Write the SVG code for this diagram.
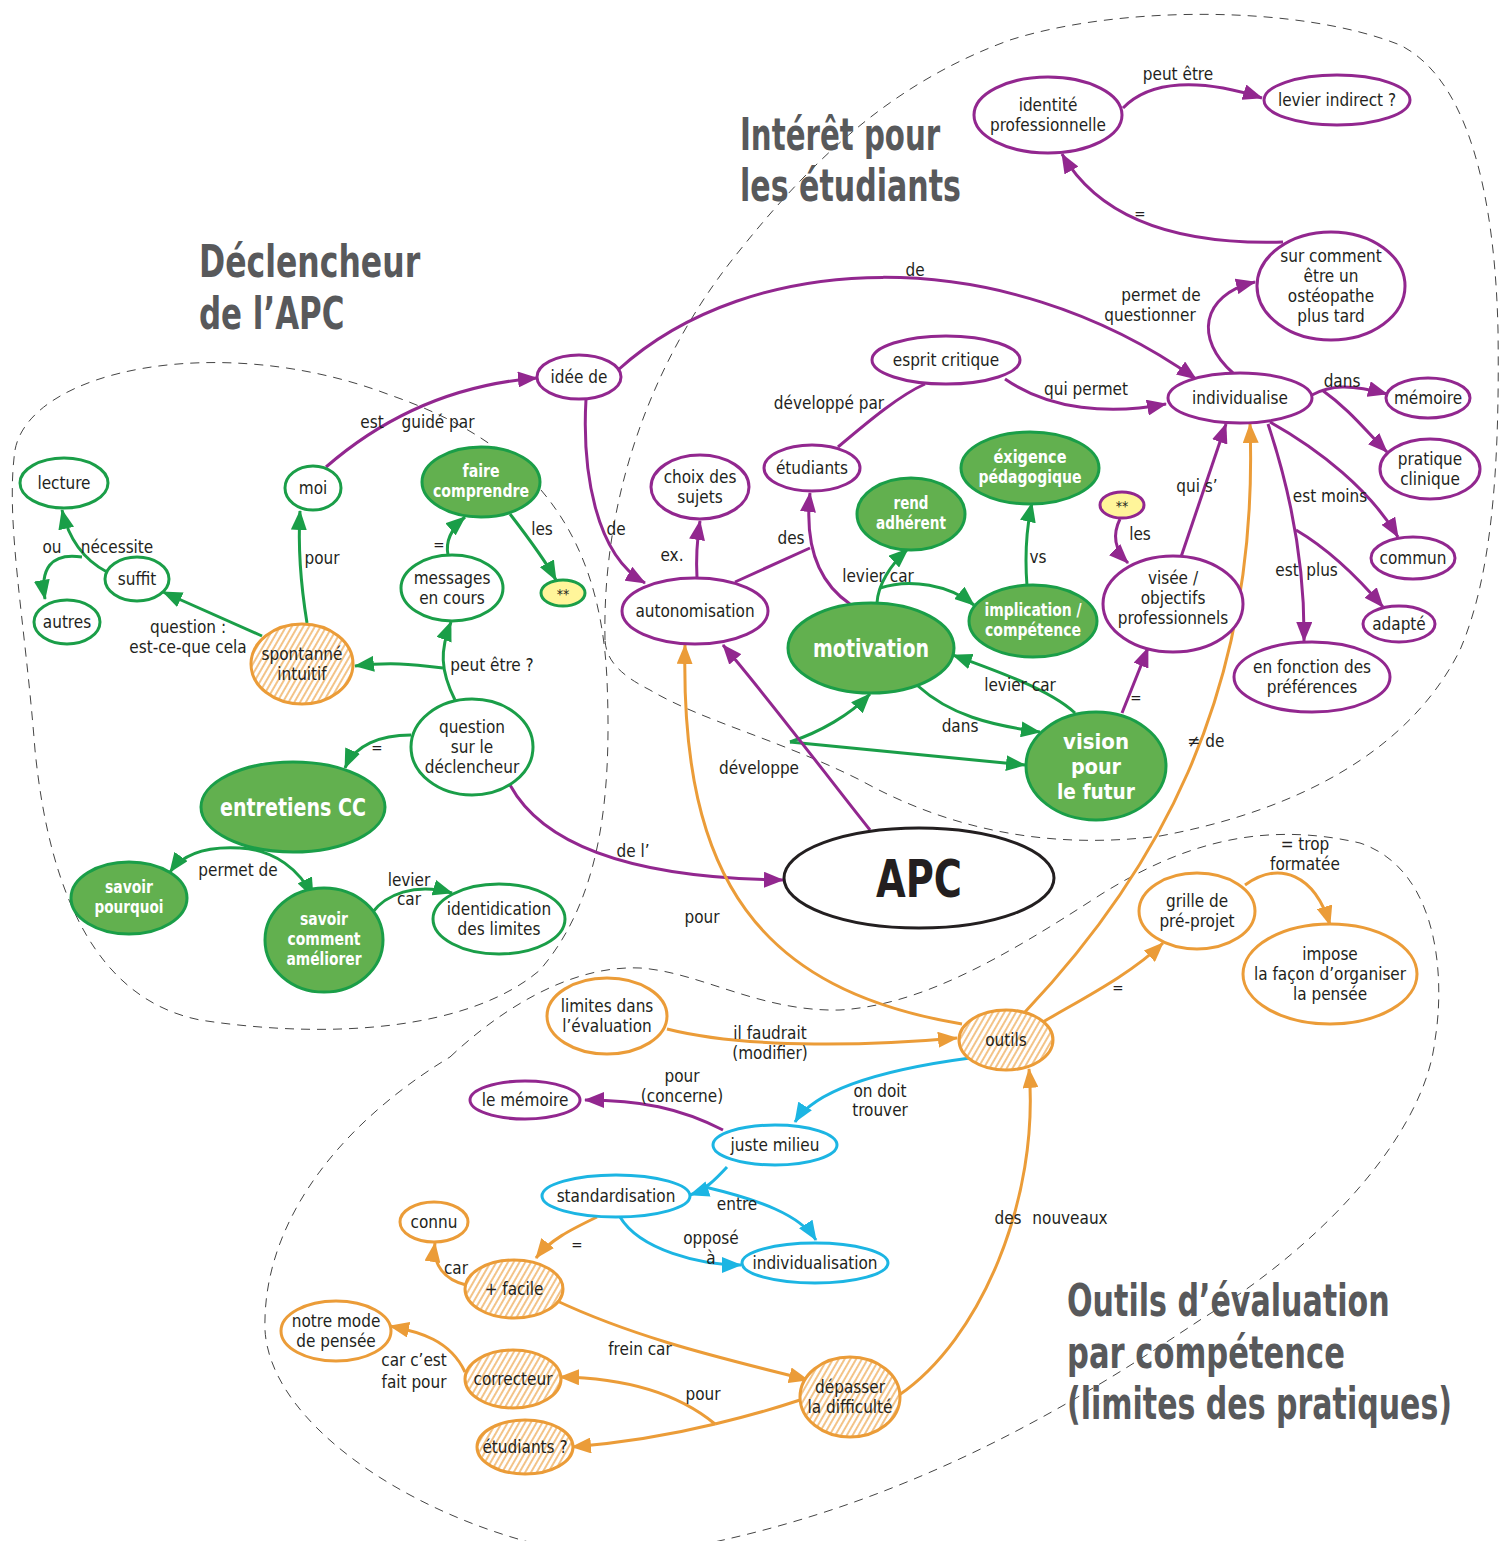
<svg xmlns="http://www.w3.org/2000/svg" width="1506" height="1541" viewBox="0 0 1506 1541">
<defs>
<style>
text{font-family:"Liberation Sans Narrow","DejaVu Sans Condensed","Liberation Sans",sans-serif;font-stretch:condensed;font-size:17px;fill:#231f20;text-anchor:middle}
.t{font-size:44px;font-weight:bold;fill:#58595b;text-anchor:start}
.w{fill:#fff;font-weight:bold;font-size:17.5px}
.big{font-size:25px}
.vis{font-size:22px}
.apc{font-size:52px;font-weight:bold}
.eq{font-size:15px}
ellipse{stroke-width:3}
.g{stroke:#1a9e48;fill:#fff}
.gf{stroke:#1a9e48;fill:#62b04f}
.p{stroke:#92278f;fill:#fff}
.o{stroke:#eb9c38;fill:#fff}
.oh{stroke:#eb9c38;fill:url(#hatch)}
.c{stroke:#1cb5e3;fill:#fff}
.yg{stroke:#1a9e48;fill:#fff59a}
.yp{stroke:#92278f;fill:#fff59a}
.k{stroke:#231f20;fill:#fff}
.e path{fill:none;stroke-width:3}
.eg{stroke:#1a9e48}
.ep{stroke:#92278f}
.eo{stroke:#eb9c38}
.ec{stroke:#1cb5e3}
.d{fill:none;stroke:#444;stroke-width:1;stroke-dasharray:9 7}
</style>
<pattern id="hatch" patternUnits="userSpaceOnUse" width="5" height="10" patternTransform="rotate(30)">
<rect width="5" height="10" fill="#fff"/>
<line x1="1" y1="0" x2="1" y2="10" stroke="#eb9c38" stroke-width="1.2"/>
</pattern>
<marker id="ag" viewBox="0 0 20 16" refX="19" refY="8" markerWidth="20" markerHeight="16" markerUnits="userSpaceOnUse" orient="auto"><path d="M0,0 L20,8 L0,16 z" fill="#1a9e48"/></marker>
<marker id="ap" viewBox="0 0 20 16" refX="19" refY="8" markerWidth="20" markerHeight="16" markerUnits="userSpaceOnUse" orient="auto"><path d="M0,0 L20,8 L0,16 z" fill="#92278f"/></marker>
<marker id="ao" viewBox="0 0 20 16" refX="19" refY="8" markerWidth="20" markerHeight="16" markerUnits="userSpaceOnUse" orient="auto"><path d="M0,0 L20,8 L0,16 z" fill="#eb9c38"/></marker>
<marker id="ac" viewBox="0 0 20 16" refX="19" refY="8" markerWidth="20" markerHeight="16" markerUnits="userSpaceOnUse" orient="auto"><path d="M0,0 L20,8 L0,16 z" fill="#1cb5e3"/></marker>
</defs>
<rect width="1506" height="1541" fill="#fff"/>

<g id="regions">
<path class="d" d="M15,450 C30,370 220,330 390,395 C520,440 600,520 607,680 C612,800 600,900 540,970 C470,1030 330,1040 200,1020 C100,1000 50,900 35,750 C25,620 5,520 15,450 Z"/>
<path class="d" d="M605,640 C602,500 650,360 740,250 C820,150 900,80 1010,40 C1120,5 1300,5 1400,45 C1470,80 1495,200 1498,330 C1500,480 1490,580 1460,650 C1410,750 1300,810 1160,836 C1050,850 950,830 860,780 C780,740 700,720 650,690 C620,675 606,660 605,640 Z"/>
<path class="d" d="M450,1057 C500,1010 570,965 640,968 C700,972 760,1012 840,1010 C920,1005 1000,960 1100,895 C1180,845 1260,820 1360,843 C1440,870 1445,980 1435,1040 C1425,1130 1330,1240 1200,1320 C1080,1400 920,1500 700,1545 L540,1545 C400,1510 270,1420 265,1330 C262,1230 330,1130 450,1057 Z"/>
</g>

<g id="titles">
<g transform="translate(740,0) scale(0.77,1)">
<text class="t" x="0" y="150" textLength="260" lengthAdjust="spacingAndGlyphs">Intérêt pour</text>
<text class="t" x="0" y="201" textLength="287" lengthAdjust="spacingAndGlyphs">les étudiants</text>
</g>
<g transform="translate(199,0) scale(0.79,1)">
<text class="t" x="0" y="277" textLength="280" lengthAdjust="spacingAndGlyphs">Déclencheur</text>
<text class="t" x="0" y="329" textLength="184" lengthAdjust="spacingAndGlyphs">de l’APC</text>
</g>
<g transform="translate(1067,0) scale(0.77,1)">
<text class="t" x="0" y="1316" textLength="419" lengthAdjust="spacingAndGlyphs">Outils d’évaluation</text>
<text class="t" x="0" y="1368" textLength="361" lengthAdjust="spacingAndGlyphs">par compétence</text>
<text class="t" x="0" y="1419" textLength="500" lengthAdjust="spacingAndGlyphs">(limites des pratiques)</text>
</g>
</g>

<g id="connectors" class="e">
<path class="eg" d="M107,572 C88,562 70,545 62,510" marker-end="url(#ag)"/>
<path class="eg" d="M82,557 C50,552 40,570 45,599" marker-end="url(#ag)"/>
<path class="eg" d="M262,636 L163,592" marker-end="url(#ag)"/>
<path class="eg" d="M307,623 C300,580 298,545 300,511" marker-end="url(#ag)"/>
<path class="eg" d="M455,700 C440,670 440,650 451,622" marker-end="url(#ag)"/>
<path class="eg" d="M443,668 C410,664 390,662 355,666" marker-end="url(#ag)"/>
<path class="eg" d="M448,555 C445,540 452,528 465,517" marker-end="url(#ag)"/>
<path class="eg" d="M510,514 C530,540 545,560 556,580" marker-end="url(#ag)"/>
<path class="eg" d="M411,735 C380,735 355,745 345,768" marker-end="url(#ag)"/>
<path class="eg" d="M240,848 C205,846 182,855 170,872" marker-end="url(#ag)"/>
<path class="eg" d="M240,848 C275,850 300,870 313,897" marker-end="url(#ag)"/>
<path class="eg" d="M372,913 C385,895 415,882 452,893" marker-end="url(#ag)"/>
<path class="eg" d="M877,603 C878,585 890,565 908,549" marker-end="url(#ag)"/>
<path class="eg" d="M880,588 C910,578 950,585 974,605" marker-end="url(#ag)"/>
<path class="eg" d="M1027,586 C1025,560 1026,530 1032,503" marker-end="url(#ag)"/>
<path class="eg" d="M1075,713 C1050,690 1000,672 953,655" marker-end="url(#ag)"/>
<path class="eg" d="M918,686 C950,715 990,725 1040,732" marker-end="url(#ag)"/>
<path class="eg" d="M790,742 C820,732 850,715 870,694" marker-end="url(#ag)"/>
<path class="eg" d="M790,742 L1025,765" marker-end="url(#ag)"/>

<path class="ep" d="M326,467 C380,420 450,385 537,378" marker-end="url(#ap)"/>
<path class="ep" d="M586,399 C582,470 595,555 645,583" marker-end="url(#ap)"/>
<path class="ep" d="M618,370 C750,250 1000,240 1196,379" marker-end="url(#ap)"/>
<path class="ep" d="M697,578 C696,560 697,540 700,521" marker-end="url(#ap)"/>
<path class="ep" d="M735,582 L810,548"/>
<path class="ep" d="M850,604 C815,580 805,540 810,493" marker-end="url(#ap)"/>
<path class="ep" d="M838,447 C870,420 900,395 925,384"/>
<path class="ep" d="M1005,379 C1050,410 1110,415 1166,404" marker-end="url(#ap)"/>
<path class="ep" d="M1233,373 C1195,340 1200,295 1255,282" marker-end="url(#ap)"/>
<path class="ep" d="M1283,242 C1180,245 1100,220 1062,154" marker-end="url(#ap)"/>
<path class="ep" d="M1123,108 C1150,80 1200,78 1262,98" marker-end="url(#ap)"/>
<path class="ep" d="M1312,395 C1330,385 1350,384 1387,394" marker-end="url(#ap)"/>
<path class="ep" d="M1322,390 C1350,410 1365,430 1387,452" marker-end="url(#ap)"/>
<path class="ep" d="M1270,422 C1320,450 1370,490 1398,537" marker-end="url(#ap)"/>
<path class="ep" d="M1268,424 C1290,490 1305,560 1304,641" marker-end="url(#ap)"/>
<path class="ep" d="M1296,530 C1330,550 1360,580 1383,607" marker-end="url(#ap)"/>
<path class="ep" d="M1181,557 C1195,515 1210,470 1226,424" marker-end="url(#ap)"/>
<path class="ep" d="M1120,519 C1112,535 1115,550 1128,563" marker-end="url(#ap)"/>
<path class="ep" d="M1122,713 L1148,648" marker-end="url(#ap)"/>
<path class="ep" d="M870,830 C830,780 770,700 723,645" marker-end="url(#ap)"/>
<path class="ep" d="M510,785 C540,840 620,878 783,880" marker-end="url(#ap)"/>
<path class="ep" d="M723,1130 C680,1108 640,1100 585,1100" marker-end="url(#ap)"/>

<path class="eo" d="M962,1024 C760,990 680,880 685,645" marker-end="url(#ao)"/>
<path class="eo" d="M1025,1012 C1150,880 1260,700 1250,424" marker-end="url(#ao)"/>
<path class="eo" d="M667,1029 C750,1050 880,1045 957,1038" marker-end="url(#ao)"/>
<path class="eo" d="M1043,1022 C1080,1000 1130,975 1163,943" marker-end="url(#ao)"/>
<path class="eo" d="M1245,885 C1280,860 1315,875 1330,925" marker-end="url(#ao)"/>
<path class="eo" d="M899,1395 C980,1340 1040,1200 1029,1069" marker-end="url(#ao)"/>
<path class="eo" d="M597,1217 C570,1230 550,1240 536,1258" marker-end="url(#ao)"/>
<path class="eo" d="M466,1285 C445,1280 432,1265 435,1243" marker-end="url(#ao)"/>
<path class="eo" d="M555,1300 C640,1340 730,1360 808,1380" marker-end="url(#ao)"/>
<path class="eo" d="M800,1400 C770,1410 740,1418 715,1424"/>
<path class="eo" d="M715,1424 C680,1395 630,1378 560,1377" marker-end="url(#ao)"/>
<path class="eo" d="M715,1424 C670,1435 620,1443 572,1447" marker-end="url(#ao)"/>
<path class="eo" d="M465,1372 C450,1340 420,1332 390,1326" marker-end="url(#ao)"/>

<path class="ec" d="M970,1058 C880,1070 815,1090 795,1122" marker-end="url(#ac)"/>
<path class="ec" d="M727,1167 C715,1180 705,1190 690,1195" marker-end="url(#ac)"/>
<path class="ec" d="M705,1187 C760,1200 800,1215 816,1240" marker-end="url(#ac)"/>
<path class="ec" d="M620,1217 C640,1250 700,1265 741,1265" marker-end="url(#ac)"/>
</g>

<g id="labels">
<text x="52" y="553">ou</text>
<text x="117" y="553">nécessite</text>
<text x="188" y="633">question :</text>
<text x="188" y="653">est-ce-que cela</text>
<text x="322" y="564">pour</text>
<text x="372" y="428">est</text>
<text x="438" y="428">guidé par</text>
<text x="492" y="671">peut être ?</text>
<text class="eq" x="439" y="550">=</text>
<text x="542" y="535">les</text>
<text class="eq" x="377" y="753">=</text>
<text x="238" y="876">permet de</text>
<text x="409" y="886">levier</text>
<text x="409" y="905">car</text>
<text x="616" y="535">de</text>
<text x="915" y="276">de</text>
<text x="672" y="561">ex.</text>
<text x="791" y="544">des</text>
<text x="829" y="409">développé par</text>
<text x="1086" y="395">qui permet</text>
<text x="1161" y="301">permet de</text>
<text x="1150" y="321">questionner</text>
<text class="eq" x="1140" y="219">=</text>
<text x="1178" y="80">peut être</text>
<text x="1342" y="387">dans</text>
<text x="1330" y="502">est moins</text>
<text x="1287" y="576">est</text>
<text x="1322" y="576">plus</text>
<text x="1197" y="492">qui s’</text>
<text x="1140" y="540">les</text>
<text x="878" y="582">levier car</text>
<text x="1038" y="563">vs</text>
<text x="1020" y="691">levier car</text>
<text x="960" y="732">dans</text>
<text class="eq" x="1136" y="703">=</text>
<text x="759" y="774">développe</text>
<text x="633" y="857">de l’</text>
<text x="702" y="923">pour</text>
<text x="1206" y="747">≠ de</text>
<text x="770" y="1039">il faudrait</text>
<text x="770" y="1059">(modifier)</text>
<text class="eq" x="1118" y="993">=</text>
<text x="1305" y="850">= trop</text>
<text x="1305" y="870">formatée</text>
<text x="880" y="1097">on doit</text>
<text x="880" y="1116">trouver</text>
<text x="682" y="1082">pour</text>
<text x="682" y="1102">(concerne)</text>
<text x="737" y="1210">entre</text>
<text x="711" y="1244">opposé</text>
<text x="711" y="1264">à</text>
<text class="eq" x="577" y="1250">=</text>
<text x="456" y="1274">car</text>
<text x="640" y="1355">frein car</text>
<text x="1008" y="1224">des</text>
<text x="1070" y="1224">nouveaux</text>
<text x="703" y="1400">pour</text>
<text x="414" y="1366">car c’est</text>
<text x="414" y="1388">fait pour</text>
</g>

<g id="n-lecture"><ellipse class="g" cx="64" cy="483" rx="44" ry="25"/><text x="64" y="489">lecture</text></g>
<g id="n-suffit"><ellipse class="g" cx="137" cy="579" rx="32" ry="22"/><text x="137" y="585">suffit</text></g>
<g id="n-autres"><ellipse class="g" cx="67" cy="622" rx="33" ry="22"/><text x="67" y="628">autres</text></g>
<g id="n-moi"><ellipse class="g" cx="313" cy="488" rx="28" ry="22"/><text x="313" y="494">moi</text></g>
<g id="n-faire"><ellipse class="gf" cx="481" cy="482" rx="59" ry="35"/><text class="w" x="481" y="477" textLength="37" lengthAdjust="spacingAndGlyphs">faire</text><text class="w" x="481" y="497" textLength="96" lengthAdjust="spacingAndGlyphs">comprendre</text></g>
<g id="n-star1"><ellipse class="yg" cx="563" cy="593" rx="22" ry="13"/><text x="563" y="599" style="font-size:14px">**</text></g>
<g id="n-messages"><ellipse class="g" cx="452" cy="588" rx="51" ry="33"/><text x="452" y="584">messages</text><text x="452" y="604">en cours</text></g>
<g id="n-spontanne"><ellipse class="oh" cx="302" cy="664" rx="51" ry="40"/><text x="302" y="660">spontanné</text><text x="302" y="680">intuitif</text></g>
<g id="n-question"><ellipse class="g" cx="472" cy="747" rx="61" ry="48"/><text x="472" y="733">question</text><text x="472" y="753">sur le</text><text x="472" y="773">déclencheur</text></g>
<g id="n-entretiens"><ellipse class="gf" cx="293" cy="807" rx="92" ry="45"/><text class="w big" x="293" y="816" textLength="146" lengthAdjust="spacingAndGlyphs">entretiens CC</text></g>
<g id="n-pourquoi"><ellipse class="gf" cx="129" cy="898" rx="58" ry="36"/><text class="w" x="129" y="893" textLength="48" lengthAdjust="spacingAndGlyphs">savoir</text><text class="w" x="129" y="913" textLength="69" lengthAdjust="spacingAndGlyphs">pourquoi</text></g>
<g id="n-comment"><ellipse class="gf" cx="324" cy="940" rx="59" ry="52"/><text class="w" x="324" y="925" textLength="48" lengthAdjust="spacingAndGlyphs">savoir</text><text class="w" x="324" y="945" textLength="73" lengthAdjust="spacingAndGlyphs">comment</text><text class="w" x="324" y="965" textLength="75" lengthAdjust="spacingAndGlyphs">améliorer</text></g>
<g id="n-identidication"><ellipse class="g" cx="499" cy="919" rx="66" ry="35"/><text x="499" y="915">identidication</text><text x="499" y="935">des limites</text></g>

<g id="n-idee"><ellipse class="p" cx="579" cy="377" rx="42" ry="22"/><text x="579" y="383">idée de</text></g>
<g id="n-autonomisation"><ellipse class="p" cx="695" cy="611" rx="73" ry="33"/><text x="695" y="617">autonomisation</text></g>
<g id="n-choix"><ellipse class="p" cx="700" cy="487" rx="49" ry="32"/><text x="700" y="483">choix des</text><text x="700" y="503">sujets</text></g>
<g id="n-etudiants"><ellipse class="p" cx="812" cy="468" rx="48" ry="23"/><text x="812" y="474">étudiants</text></g>
<g id="n-esprit"><ellipse class="p" cx="946" cy="360" rx="74" ry="24"/><text x="946" y="366">esprit critique</text></g>
<g id="n-individualise"><ellipse class="p" cx="1240" cy="398" rx="72" ry="25"/><text x="1240" y="404">individualise</text></g>
<g id="n-surcomment"><ellipse class="p" cx="1331" cy="286" rx="74" ry="54"/><text x="1331" y="262">sur comment</text><text x="1331" y="282">être un</text><text x="1331" y="302">ostéopathe</text><text x="1331" y="322">plus tard</text></g>
<g id="n-identite"><ellipse class="p" cx="1048" cy="115" rx="74" ry="38"/><text x="1048" y="111">identité</text><text x="1048" y="131">professionnelle</text></g>
<g id="n-levier"><ellipse class="p" cx="1337" cy="100" rx="73" ry="25"/><text x="1337" y="106">levier indirect ?</text></g>
<g id="n-memoire"><ellipse class="p" cx="1428" cy="398" rx="42" ry="20"/><text x="1428" y="404">mémoire</text></g>
<g id="n-pratique"><ellipse class="p" cx="1430" cy="469" rx="50" ry="30"/><text x="1430" y="465">pratique</text><text x="1430" y="485">clinique</text></g>
<g id="n-commun"><ellipse class="p" cx="1413" cy="558" rx="42" ry="21"/><text x="1413" y="564">commun</text></g>
<g id="n-adapte"><ellipse class="p" cx="1399" cy="624" rx="36" ry="18"/><text x="1399" y="630">adapté</text></g>
<g id="n-fonction"><ellipse class="p" cx="1312" cy="677" rx="78" ry="35"/><text x="1312" y="673">en fonction des</text><text x="1312" y="693">préférences</text></g>
<g id="n-visee"><ellipse class="p" cx="1173" cy="604" rx="70" ry="48"/><text x="1173" y="584">visée /</text><text x="1173" y="604">objectifs</text><text x="1173" y="624">professionnels</text></g>
<g id="n-star2"><ellipse class="yp" cx="1122" cy="505" rx="22" ry="13"/><text x="1122" y="511" style="font-size:14px">**</text></g>
<g id="n-lememoire"><ellipse class="p" cx="525" cy="1100" rx="55" ry="19"/><text x="525" y="1106">le mémoire</text></g>

<g id="n-rend"><ellipse class="gf" cx="911" cy="514" rx="54" ry="36"/><text class="w" x="911" y="509" textLength="35" lengthAdjust="spacingAndGlyphs">rend</text><text class="w" x="911" y="529" textLength="70" lengthAdjust="spacingAndGlyphs">adhérent</text></g>
<g id="n-exigence"><ellipse class="gf" cx="1030" cy="468" rx="69" ry="36"/><text class="w" x="1030" y="463" textLength="73" lengthAdjust="spacingAndGlyphs">éxigence</text><text class="w" x="1030" y="483" textLength="103" lengthAdjust="spacingAndGlyphs">pédagogique</text></g>
<g id="n-implication"><ellipse class="gf" cx="1033" cy="621" rx="64" ry="36"/><text class="w" x="1033" y="616" textLength="97" lengthAdjust="spacingAndGlyphs">implication /</text><text class="w" x="1033" y="636" textLength="96" lengthAdjust="spacingAndGlyphs">compétence</text></g>
<g id="n-motivation"><ellipse class="gf" cx="871" cy="648" rx="83" ry="45"/><text class="w big" x="871" y="657" textLength="116" lengthAdjust="spacingAndGlyphs">motivation</text></g>
<g id="n-vision"><ellipse class="gf" cx="1096" cy="766" rx="70" ry="54"/><text class="w vis" x="1096" y="749" textLength="66" lengthAdjust="spacingAndGlyphs">vision</text><text class="w vis" x="1096" y="774" textLength="50" lengthAdjust="spacingAndGlyphs">pour</text><text class="w vis" x="1096" y="799" textLength="78" lengthAdjust="spacingAndGlyphs">le futur</text></g>
<g id="n-apc"><ellipse class="k" cx="919" cy="878" rx="135" ry="50"/><text class="apc" x="919" y="897" textLength="86" lengthAdjust="spacingAndGlyphs">APC</text></g>

<g id="n-outils"><ellipse class="oh" cx="1006" cy="1040" rx="47" ry="30"/><text x="1006" y="1046">outils</text></g>
<g id="n-limites"><ellipse class="o" cx="607" cy="1016" rx="60" ry="38"/><text x="607" y="1012">limites dans</text><text x="607" y="1032">l’évaluation</text></g>
<g id="n-grille"><ellipse class="o" cx="1197" cy="911" rx="58" ry="38"/><text x="1197" y="907">grille de</text><text x="1197" y="927">pré-projet</text></g>
<g id="n-impose"><ellipse class="o" cx="1330" cy="974" rx="87" ry="50"/><text x="1330" y="960">impose</text><text x="1330" y="980">la façon d’organiser</text><text x="1330" y="1000">la pensée</text></g>
<g id="n-facile"><ellipse class="oh" cx="514" cy="1289" rx="49" ry="29"/><text x="514" y="1295">+ facile</text></g>
<g id="n-connu"><ellipse class="o" cx="434" cy="1222" rx="34" ry="20"/><text x="434" y="1228">connu</text></g>
<g id="n-depasser"><ellipse class="oh" cx="850" cy="1397" rx="50" ry="40"/><text x="850" y="1393">dépasser</text><text x="850" y="1413">la difficulté</text></g>
<g id="n-correcteur"><ellipse class="oh" cx="513" cy="1379" rx="48" ry="29"/><text x="513" y="1385">correcteur</text></g>
<g id="n-etudiants2"><ellipse class="oh" cx="525" cy="1447" rx="48" ry="27"/><text x="525" y="1453">étudiants ?</text></g>
<g id="n-notremode"><ellipse class="o" cx="336" cy="1331" rx="55" ry="30"/><text x="336" y="1327">notre mode</text><text x="336" y="1347">de pensée</text></g>

<g id="n-juste"><ellipse class="c" cx="775" cy="1145" rx="62" ry="20"/><text x="775" y="1151">juste milieu</text></g>
<g id="n-standardisation"><ellipse class="c" cx="616" cy="1196" rx="74" ry="21"/><text x="616" y="1202">standardisation</text></g>
<g id="n-individualisation"><ellipse class="c" cx="815" cy="1263" rx="73" ry="20"/><text x="815" y="1269">individualisation</text></g>
</svg>
